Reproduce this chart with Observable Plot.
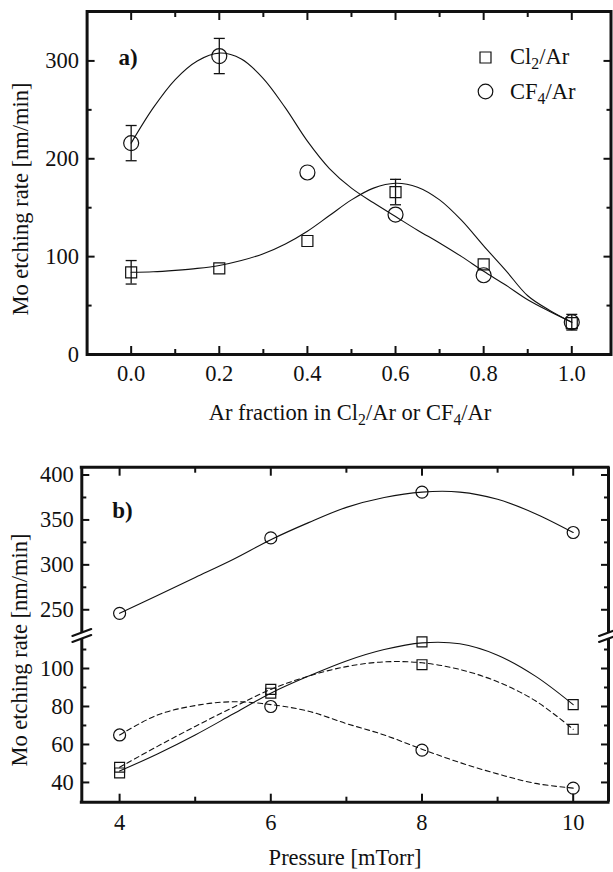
<!DOCTYPE html>
<html><head><meta charset="utf-8">
<script src="https://cdn.jsdelivr.net/npm/d3@7"></script>
<script src="https://cdn.jsdelivr.net/npm/@observablehq/plot@0.6"></script>
<style>
body{margin:0;background:#fff;}
#wrap{position:relative;width:613px;height:872px;overflow:hidden;font-family:"Liberation Serif",serif;color:#111;background:#fff;}
.lbl{position:absolute;white-space:nowrap;font-size:22.5px;line-height:1;color:#111;}
.sub{font-size:0.7em;position:relative;top:0.3em;}
</style></head><body><div id="wrap"></div>
<script>
// ---------- Panel a data ----------
const arFraction = [0.0, 0.2, 0.4, 0.6, 0.8, 1.0];
const cl2Rate = [84, 88, 116, 166, 92, 32];
const cf4Rate = [216, 305, 186, 143, 81, 33];
const cl2ErrFraction = [0.0, 0.6];
const cl2ErrLow = [72, 153];
const cl2ErrHigh = [96, 179];
const cf4ErrFraction = [0.0, 0.2, 1.0];
const cf4ErrLow = [198, 287, 25];
const cf4ErrHigh = [234, 323, 41];
const fitFraction = [0, 0.05, 0.1, 0.15, 0.2, 0.25, 0.3, 0.35, 0.4, 0.45, 0.5, 0.55, 0.6, 0.65, 0.7, 0.75, 0.8, 0.85, 0.9, 0.95, 1.0];
const cl2Fit = [84, 84.5, 86, 88, 91, 96, 103, 113, 126, 142, 158, 170, 175, 171, 158, 137, 111, 86, 60, 45, 33];
const cf4Fit = [216, 252, 281, 300, 308, 302, 282, 252, 218, 190, 170, 155, 141, 127, 114, 100, 85, 71, 56, 44, 33];
const xTicksA = [0.0, 0.2, 0.4, 0.6, 0.8, 1.0];
const xMinorA = [0.1, 0.3, 0.5, 0.7, 0.9];
const yTicksA = [0, 100, 200, 300];
const yMinorA = [50, 150, 250];
const seriesA = ["Cl2/Ar", "CF4/Ar"];

// ---------- Panel b data ----------
const pressure = [4, 6, 8, 10];
const upperCircle = [246, 330, 381, 336];
const solidSquare = [45, 87, 114, 81];
const dashedSquare = [48, 89, 102, 68];
const dashedCircle = [65, 80, 57, 37];
const fitPressure = [4, 4.5, 5, 5.5, 6, 6.5, 7, 7.5, 8, 8.5, 9, 9.5, 10];
const upperCircleFit = [246, 266, 286, 306, 328, 347, 364, 375, 381, 381, 373, 357, 336];
const solidSquareFit = [46, 55, 65, 76, 87, 96, 104, 110, 113.5, 113, 107, 96, 81];
const dashedSquareFit = [48, 59, 69.5, 79.5, 89, 96, 101, 103.5, 103, 99.5, 93, 83, 68];
const dashedCircleFit = [65, 75.5, 80.5, 82.5, 81, 77.5, 71, 65, 57.5, 50.5, 44.5, 39.5, 37];
const xTicksB = [4, 6, 8, 10];
const xMinorB = [5, 7, 9];
const yTicksUpper = [250, 300, 350, 400];
const yMinorUpper = [275, 325, 375];
const yTicksLower = [40, 60, 80, 100];
const yMinorLower = [50, 70, 90, 110];

// ---------- helpers ----------
const wrap = document.getElementById("wrap");
function place(svg, top) {
  svg.style.position = "absolute";
  svg.style.left = "0px";
  svg.style.top = top + "px";
  svg.style.overflow = "visible";
  svg.style.background = "transparent";
  svg.style.fontFamily = '"Liberation Serif", serif';
  svg.style.fontSize = "22.5px";
  svg.style.color = "#111";
  svg.style.maxWidth = "none";
  wrap.appendChild(svg);
}
const cap = w => ({draw(ctx) { ctx.moveTo(-w, 0); ctx.lineTo(w, 0); }});
const slash = {draw(c, l) { c.moveTo(0, 0); c.lineTo(0, -l); }};
function ticks(axis, anchor, values, size) {
  return axis({anchor, ticks: values, tickSize: -size, fill: "none", label: null, strokeWidth: 2});
}

// ---------- Panel a ----------
const fitRowsA = fitFraction.map((f, i) => ({f, cl2: cl2Fit[i], cf4: cf4Fit[i]}));
const rowsA = arFraction.map((f, i) => ({f, cl2: cl2Rate[i], cf4: cf4Rate[i]}));
const cl2Err = cl2ErrFraction.map((f, i) => ({f, lo: cl2ErrLow[i], hi: cl2ErrHigh[i]}));
const cf4Err = cf4ErrFraction.map((f, i) => ({f, lo: cf4ErrLow[i], hi: cf4ErrHigh[i]}));
const errA = cl2Err.concat(cf4Err);

const mLA = 86.6, mTA = 11;
const A = Plot.plot({
  width: 613, height: 430,
  marginLeft: mLA, marginRight: 2.5, marginTop: mTA, marginBottom: 76,
  x: {domain: [-0.1, 1.089]},
  y: {domain: [0, 350.5]},
  marks: [
    Plot.line(fitRowsA, {x: "f", y: "cl2", curve: "catmull-rom", stroke: "#111", strokeWidth: 1.1}),
    Plot.line(fitRowsA, {x: "f", y: "cf4", curve: "catmull-rom", stroke: "#111", strokeWidth: 1.1}),
    Plot.ruleX(errA, {x: "f", y1: "lo", y2: "hi", stroke: "#111", strokeWidth: 1.3}),
    Plot.dot(errA, {x: "f", y: "lo", symbol: cap(5.5), stroke: "#111", fill: "none", strokeWidth: 1.3}),
    Plot.dot(errA, {x: "f", y: "hi", symbol: cap(5.5), stroke: "#111", fill: "none", strokeWidth: 1.3}),
    Plot.dot(rowsA, {x: "f", y: "cl2", symbol: "square", r: 6.2, stroke: "#111", fill: "none", strokeWidth: 1.2}),
    Plot.dot(rowsA, {x: "f", y: "cf4", symbol: "circle", r: 7.5, stroke: "#111", fill: "none", strokeWidth: 1.2}),
    Plot.frame({stroke: "#111", strokeWidth: 3}),
    ticks(Plot.axisX, "bottom", xTicksA, 8), ticks(Plot.axisX, "bottom", xMinorA, 5),
    ticks(Plot.axisX, "top", xTicksA, 8), ticks(Plot.axisX, "top", xMinorA, 5),
    ticks(Plot.axisY, "left", yTicksA, 8), ticks(Plot.axisY, "left", yMinorA, 5),
    ticks(Plot.axisY, "right", yTicksA, 8), ticks(Plot.axisY, "right", yMinorA, 5),
    Plot.axisX({anchor: "bottom", ticks: xTicksA, tickSize: 0, tickPadding: 10.5, tickFormat: d3.format(".1f"), label: null}),
    Plot.axisY({anchor: "left", ticks: yTicksA, tickSize: 0, tickPadding: 8, label: null}),
    Plot.dot([seriesA[0]], {frameAnchor: "top-left", dx: 485 - mLA, dy: 57 - mTA, symbol: "square", r: 6.2, stroke: "#111", fill: "none", strokeWidth: 1.2}),
    Plot.dot([seriesA[1]], {frameAnchor: "top-left", dx: 485 - mLA, dy: 91 - mTA, symbol: "circle", r: 7.3, stroke: "#111", fill: "none", strokeWidth: 1.2}),
    Plot.text(["a)"], {frameAnchor: "top-left", text: d => d, dx: 31.5, dy: 37, textAnchor: "start", fontWeight: "bold", fontSize: 23, fill: "#111"})
  ]
});
place(A, 0);

// ---------- Panel b (broken axis: two stacked segments) ----------
const xDomB = [3.5, 10.467];
const mLB = 81.3, mRB = 5;
const fitRowsB = fitPressure.map((p, i) => ({p, uc: upperCircleFit[i], ss: solidSquareFit[i], ds: dashedSquareFit[i], dc: dashedCircleFit[i]}));
const rowsB = pressure.map((p, i) => ({p, uc: upperCircle[i], ss: solidSquare[i], ds: dashedSquare[i], dc: dashedCircle[i]}));
const upperDom = [224.7, 408.7];
const lowerDom = [29.6, 115.8];

const B1 = Plot.plot({
  width: 613, height: 195,
  marginLeft: mLB, marginRight: mRB, marginTop: 26.7, marginBottom: 3,
  x: {domain: xDomB},
  y: {domain: upperDom},
  marks: [
    Plot.line(fitRowsB, {x: "p", y: "uc", curve: "catmull-rom", stroke: "#111", strokeWidth: 1.1}),
    Plot.dot(rowsB, {x: "p", y: "uc", symbol: "circle", r: 6, stroke: "#111", fill: "none", strokeWidth: 1.2}),
    Plot.ruleY([upperDom[1]], {stroke: "#111", strokeWidth: 3, strokeLinecap: "square"}),
    Plot.ruleX(xDomB, {stroke: "#111", strokeWidth: 3}),
    Plot.vector(xDomB, {x: d => d, frameAnchor: "bottom", length: 20, rotate: 70, anchor: "middle", shape: slash, stroke: "#111", strokeWidth: 2.2}),
    ticks(Plot.axisX, "top", xTicksB, 8), ticks(Plot.axisX, "top", xMinorB, 5),
    ticks(Plot.axisY, "left", yTicksUpper, 8), ticks(Plot.axisY, "left", yMinorUpper, 5),
    ticks(Plot.axisY, "right", yTicksUpper, 8), ticks(Plot.axisY, "right", yMinorUpper, 5),
    Plot.axisY({anchor: "left", ticks: yTicksUpper, tickSize: 0, tickPadding: 8, label: null}),
    Plot.text(["b)"], {frameAnchor: "top-left", text: d => d, dx: 30.5, dy: 34.5, textAnchor: "start", fontWeight: "bold", fontSize: 23, fill: "#111"})
  ]
});
place(B1, 440);

const B2 = Plot.plot({
  width: 613, height: 237,
  marginLeft: mLB, marginRight: mRB, marginTop: 3, marginBottom: 70.3,
  x: {domain: xDomB},
  y: {domain: lowerDom},
  marks: [
    Plot.line(fitRowsB, {x: "p", y: "ss", curve: "catmull-rom", stroke: "#111", strokeWidth: 1.1}),
    Plot.line(fitRowsB, {x: "p", y: "ds", curve: "catmull-rom", stroke: "#111", strokeWidth: 1.1, strokeDasharray: "5,3.5"}),
    Plot.line(fitRowsB, {x: "p", y: "dc", curve: "catmull-rom", stroke: "#111", strokeWidth: 1.1, strokeDasharray: "5,3.5"}),
    Plot.dot(rowsB, {x: "p", y: "ss", symbol: "square", r: 5.6, stroke: "#111", fill: "none", strokeWidth: 1.2}),
    Plot.dot(rowsB, {x: "p", y: "ds", symbol: "square", r: 5.6, stroke: "#111", fill: "none", strokeWidth: 1.2}),
    Plot.dot(rowsB, {x: "p", y: "dc", symbol: "circle", r: 6, stroke: "#111", fill: "none", strokeWidth: 1.2}),
    Plot.ruleY([lowerDom[0]], {stroke: "#111", strokeWidth: 3, strokeLinecap: "square"}),
    Plot.ruleX(xDomB, {stroke: "#111", strokeWidth: 3}),
    Plot.vector(xDomB, {x: d => d, frameAnchor: "top", length: 20, rotate: 70, anchor: "middle", shape: slash, stroke: "#111", strokeWidth: 2.2}),
    ticks(Plot.axisX, "bottom", xTicksB, 8), ticks(Plot.axisX, "bottom", xMinorB, 5),
    ticks(Plot.axisY, "left", yTicksLower, 8), ticks(Plot.axisY, "left", yMinorLower, 5),
    ticks(Plot.axisY, "right", yTicksLower, 8), ticks(Plot.axisY, "right", yMinorLower, 5),
    Plot.axisX({anchor: "bottom", ticks: xTicksB, tickSize: 0, tickPadding: 11.5, tickFormat: d3.format("d"), label: null}),
    Plot.axisY({anchor: "left", ticks: yTicksLower, tickSize: 0, tickPadding: 8, label: null})
  ]
});
place(B2, 635);

// ---------- HTML titles and legend text ----------
function addLabel(html, cx, cy, rotate) {
  const d = document.createElement("div");
  d.className = "lbl";
  d.innerHTML = html;
  d.style.left = cx + "px";
  d.style.top = cy + "px";
  d.style.transform = "translate(-50%,-50%)" + (rotate ? " rotate(-90deg)" : "");
  wrap.appendChild(d);
}
function addLegend(html, x, cy) {
  const d = document.createElement("div");
  d.className = "lbl";
  d.innerHTML = html;
  d.style.left = x + "px";
  d.style.top = (cy - 11) + "px";
  wrap.appendChild(d);
}
addLabel("Mo etching rate [nm/min]", 21, 199, true);
addLabel('Ar fraction in Cl<span class="sub">2</span>/Ar or CF<span class="sub">4</span>/Ar', 350, 413, false);
addLegend('Cl<span class="sub">2</span>/Ar', 510, 57);
addLegend('CF<span class="sub">4</span>/Ar', 510, 92);
addLabel("Mo etching rate [nm/min]", 20, 650, true);
addLabel("Pressure [mTorr]", 345, 858, false);
</script></body></html>
